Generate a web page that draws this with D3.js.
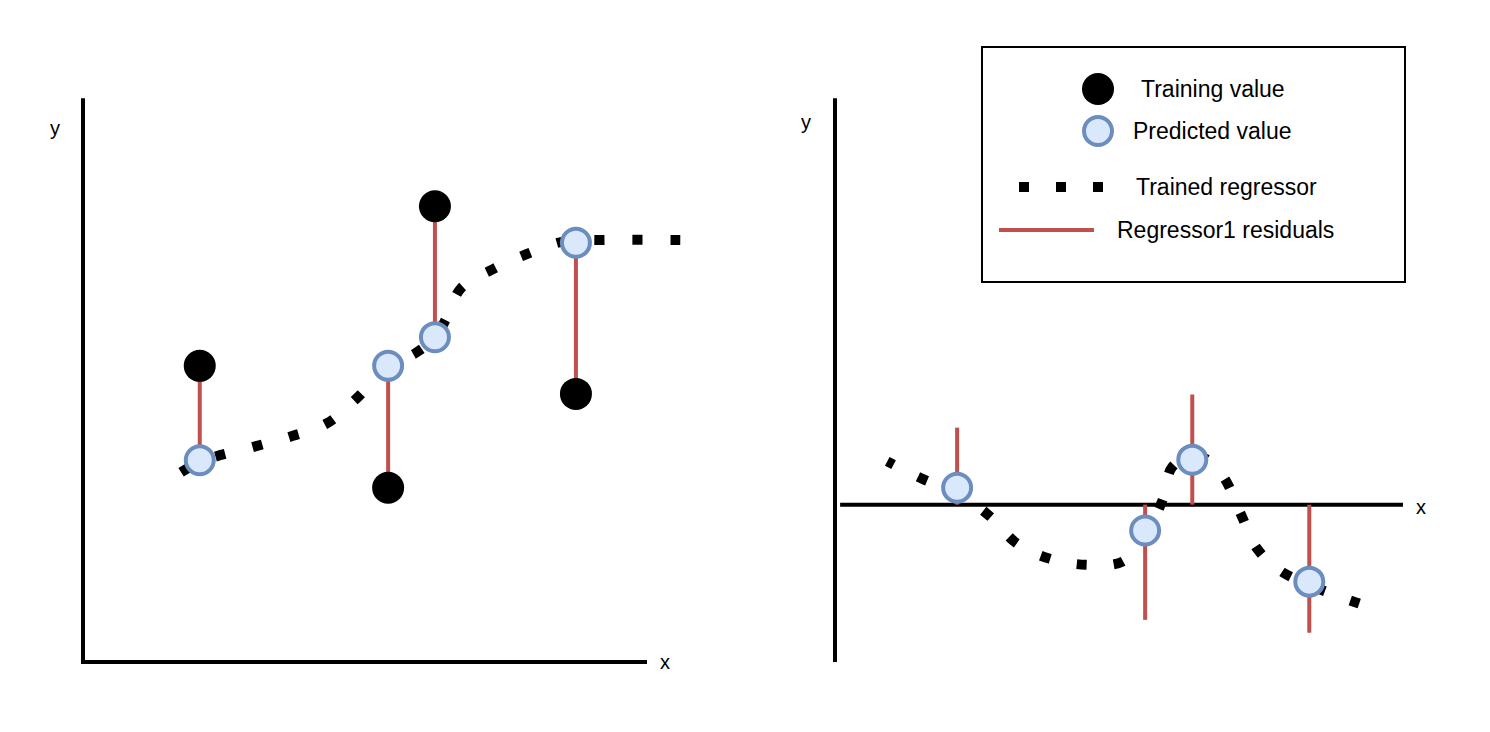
<!DOCTYPE html>
<html>
<head>
<meta charset="utf-8">
<script src="https://cdn.jsdelivr.net/npm/d3@7"></script>
<style>
  html, body { margin: 0; padding: 0; background: #fff; }
  svg { display: block; }
  text { font-family: "Liberation Sans", Arial, Helvetica, sans-serif; fill: #000; }
</style>
</head>
<body>
<svg id="chart" width="1490" height="732"></svg>
<script>
// ---------- Data ----------
// Left panel: training values, predictions, trained regressor curve
const leftX = [20.7, 54.1, 62.4, 87.4];
const leftTrainY = [52.7, 31.0, 81.1, 47.7];
const leftPredY = [35.9, 52.7, 57.8, 74.6];
const leftCurveX = [15.8, 20.7, 30.7, 37.1, 43.3, 48.4, 54.1, 59.0, 62.4, 64.6, 67.0, 72.7, 78.7, 85.5, 91.7, 105.9];
const leftCurveY = [32.7, 35.6, 38.4, 40.2, 42.5, 46.8, 52.5, 55.0, 57.7, 61.5, 66.5, 69.9, 72.6, 74.9, 75.1, 75.1];

// Right panel: residual predictions
const rightX = [21.5, 54.6, 62.9, 83.5];
const rightPredY = [3.0, -4.6, 8.0, -13.7];
const rightResidY = [13.7, -20.5, 19.6, -22.8];
const rightCurveX = [9.2, 15.8, 21.5, 27.3, 32.0, 37.7, 44.2, 50.7, 54.6, 57.7, 59.3, 62.9, 66.5, 68.8, 71.5, 74.3, 78.9, 92.3];
const rightCurveY = [7.7, 4.4, 2.1, -2.1, -6.9, -9.6, -10.7, -10.1, -5.3, 0.9, 6.6, 8.9, 7.3, 4.3, -1.8, -7.8, -12.1, -17.6];

// Legend
const legendLabels = ["Training value", "Predicted value", "Trained regressor", "Regressor1 residuals"];

// ---------- Styles ----------
const RED = "#c0504d";
const BLUE_FILL = "#dae8fc";
const BLUE_STROKE = "#6c8ebf";
const DASH = 10;

const svg = d3.select("#chart");

// ---------- Scales ----------
const lx = d3.scaleLinear().domain([0, 100]).range([83, 647]);
const ly = d3.scaleLinear().domain([0, 100]).range([662, 100]);
const rx = d3.scaleLinear().domain([0, 100]).range([835, 1403]);
const ry = d3.scaleLinear().domain([-28, 72]).range([662, 100]);

const line = (xs, ys, sx, sy) => d3.line()
  .x((d, i) => sx(xs[i]))
  .y((d, i) => sy(ys[i]))
  .curve(d3.curveCatmullRom.alpha(0.5))(xs);

// dotted path whose last dot sits at the end of the path
function dotted(g, d, gap) {
  const p = g.append("path").attr("d", d)
    .attr("fill", "none").attr("stroke", "#000").attr("stroke-width", 10)
    .attr("stroke-dasharray", DASH + "," + gap).attr("stroke-linecap", "butt");
  const L = p.node().getTotalLength();
  const period = DASH + gap;
  const off = (((DASH - L) % period) + period) % period;
  p.attr("stroke-dashoffset", off);
  return p;
}

// ---------- Left panel ----------
const Lg = svg.append("g");
Lg.append("line").attr("x1", lx(0)).attr("x2", lx(0)).attr("y1", ly(0)).attr("y2", ly(100.3))
  .attr("stroke", "#000").attr("stroke-width", 4);
Lg.append("line").attr("x1", lx(0) - 2).attr("x2", lx(100)).attr("y1", ly(0)).attr("y2", ly(0))
  .attr("stroke", "#000").attr("stroke-width", 4);
Lg.append("text").attr("x", 55).attr("y", 128).attr("text-anchor", "middle").attr("dominant-baseline", "central")
  .style("font-size", "20px").text("y");
Lg.append("text").attr("x", 665).attr("y", 662).attr("text-anchor", "middle").attr("dominant-baseline", "central")
  .style("font-size", "20px").text("x");

dotted(Lg, line(leftCurveX, leftCurveY, lx, ly), 28);

Lg.selectAll(".resid").data(leftX).enter().append("line")
  .attr("x1", d => lx(d)).attr("x2", d => lx(d))
  .attr("y1", (d, i) => ly(leftTrainY[i])).attr("y2", (d, i) => ly(leftPredY[i]))
  .attr("stroke", RED).attr("stroke-width", 4);

Lg.selectAll(".train").data(leftX).enter().append("circle")
  .attr("cx", d => lx(d)).attr("cy", (d, i) => ly(leftTrainY[i])).attr("r", 16)
  .attr("fill", "#000");

Lg.selectAll(".pred").data(leftX).enter().append("circle")
  .attr("cx", d => lx(d)).attr("cy", (d, i) => ly(leftPredY[i])).attr("r", 14)
  .attr("fill", BLUE_FILL).attr("stroke", BLUE_STROKE).attr("stroke-width", 4);

// ---------- Right panel ----------
const Rg = svg.append("g");
Rg.append("line").attr("x1", rx(0)).attr("x2", rx(0)).attr("y1", ry(-28)).attr("y2", ry(72.3))
  .attr("stroke", "#000").attr("stroke-width", 4);
Rg.append("line").attr("x1", rx(0.9)).attr("x2", rx(100)).attr("y1", ry(0)).attr("y2", ry(0))
  .attr("stroke", "#000").attr("stroke-width", 4);
Rg.append("text").attr("x", 806).attr("y", 122).attr("text-anchor", "middle").attr("dominant-baseline", "central")
  .style("font-size", "20px").text("y");
Rg.append("text").attr("x", 1421).attr("y", 507).attr("text-anchor", "middle").attr("dominant-baseline", "central")
  .style("font-size", "20px").text("x");

dotted(Rg, line(rightCurveX, rightCurveY, rx, ry), 27);

Rg.selectAll(".resid").data(rightX).enter().append("line")
  .attr("x1", d => rx(d)).attr("x2", d => rx(d))
  .attr("y1", ry(0)).attr("y2", (d, i) => ry(rightResidY[i]))
  .attr("stroke", RED).attr("stroke-width", 4);

Rg.selectAll(".pred").data(rightX).enter().append("circle")
  .attr("cx", d => rx(d)).attr("cy", (d, i) => ry(rightPredY[i])).attr("r", 14)
  .attr("fill", BLUE_FILL).attr("stroke", BLUE_STROKE).attr("stroke-width", 4);

// ---------- Legend ----------
const G = svg.append("g");
G.append("rect").attr("x", 982).attr("y", 47).attr("width", 423).attr("height", 235)
  .attr("fill", "#fff").attr("stroke", "#000").attr("stroke-width", 2);

G.append("circle").attr("cx", 1098).attr("cy", 89).attr("r", 16).attr("fill", "#000");
G.append("circle").attr("cx", 1098).attr("cy", 131).attr("r", 14)
  .attr("fill", BLUE_FILL).attr("stroke", BLUE_STROKE).attr("stroke-width", 4);
G.append("line").attr("x1", 1019).attr("x2", 1114).attr("y1", 187).attr("y2", 187)
  .attr("stroke", "#000").attr("stroke-width", 10).attr("stroke-dasharray", DASH + ",27");
G.append("line").attr("x1", 999).attr("x2", 1094).attr("y1", 230).attr("y2", 230)
  .attr("stroke", RED).attr("stroke-width", 4);

const legendX = [1141, 1133, 1136, 1117];
const legendY = [89, 131, 187, 230];
G.selectAll(".lt").data(legendLabels).enter().append("text")
  .attr("x", (d, i) => legendX[i]).attr("y", (d, i) => legendY[i])
  .attr("dominant-baseline", "central").style("font-size", "23px").text(d => d);
</script>
</body>
</html>
